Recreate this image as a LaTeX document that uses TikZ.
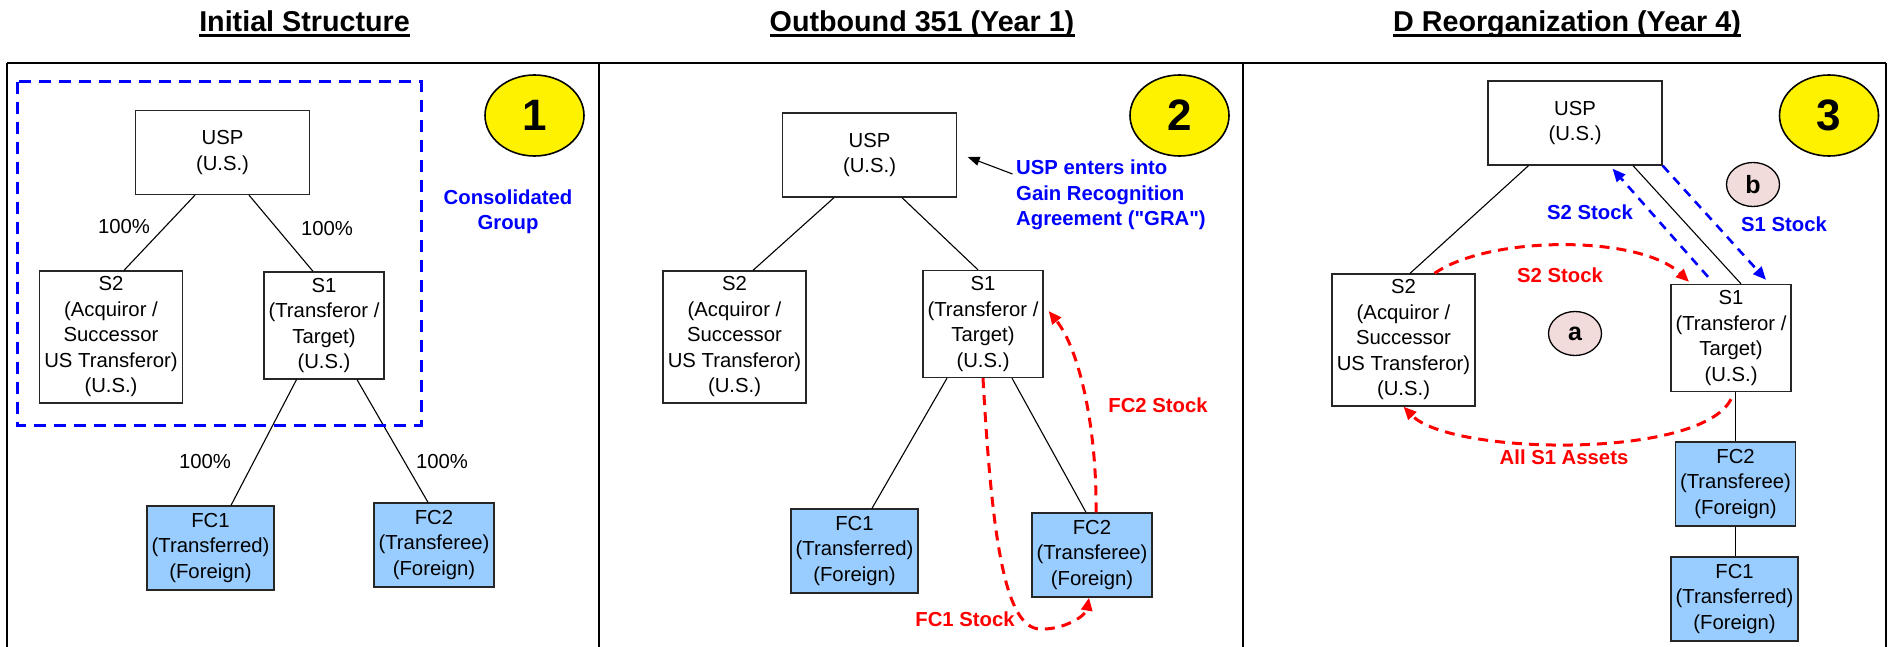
\documentclass[tikz,border=0pt]{standalone}
\usepackage{fontspec}
\setmainfont{Liberation Sans}[Ligatures=TeXOff]
\usepackage{xcolor}
\usetikzlibrary{calc, arrows.meta, shapes.geometric, positioning}

\definecolor{fcblue}{HTML}{99CCFF}
\definecolor{tagpink}{HTML}{F2DCDB}

\begin{document}
\begin{tikzpicture}[x=1pt, y=-1pt,
  every node/.style={font=\fontsize{20.3}{25.5}\selectfont, align=center, inner sep=0pt},
  entity/.style={draw=black!85, line width=1.3pt, fill=white},
  usp/.style={entity, minimum width=174pt, minimum height=84pt},
  subtwo/.style={entity, minimum width=143pt, minimum height=132pt},
  subone/.style={entity, minimum width=120pt, minimum height=107pt},
  fcone/.style={entity, fill=fcblue, minimum width=127pt, minimum height=84pt},
  fctwo/.style={entity, fill=fcblue, minimum width=120pt, minimum height=84pt},
  own/.style={line width=1.1pt},
  frame/.style={line width=2.5pt},
  heading/.style={font=\fontsize{28.7}{34}\selectfont\bfseries, anchor=base},
  stepnum/.style={ellipse, draw, line width=1.6pt, fill=yellow, minimum width=99pt, minimum height=81pt, font=\fontsize{44}{50}\selectfont\bfseries},
  tag/.style={ellipse, draw, line width=1.3pt, fill=tagpink, minimum width=53pt, minimum height=44pt, font=\fontsize{25}{28}\selectfont\bfseries},
  note/.style={font=\fontsize{20.3}{25.5}\selectfont\bfseries},
  moveR/.style={draw=red, line width=3pt, dash pattern=on 10pt off 7pt, -{Triangle[length=13pt,width=11pt]}},
  moveB/.style={draw=blue, line width=2.6pt, dash pattern=on 9pt off 7pt, -{Triangle[length=13pt,width=11pt]}},
]
  \useasboundingbox (0,0) rectangle (1889,647);

  % frame and headings
  \draw[frame] (7,63) -- (1886,63);
  \foreach \xx in {7,599,1243,1886} {
    \draw[frame] (\xx,63) -- (\xx,647);
  }
  \node[heading] (headA) at (304.5,32) {Initial Structure};
  \node[heading] (headB) at (922,32) {Outbound 351 (Year 1)};
  \node[heading] (headC) at (1567,32) {D Reorganization (Year 4)};
  \foreach \hh in {headA,headB,headC} {
    \draw[line width=3pt] ([yshift=-3.5pt]\hh.base west) -- ([yshift=-3.5pt]\hh.base east);
  }

  % initial structure
  \node[usp] (uspA) at (222.5,152.5) {USP\\(U.S.)};
  \node[subtwo] (stwoA) at (111,337) {S2\\(Acquiror /\\Successor\\US Transferor)\\(U.S.)};
  \node[subone] (soneA) at (324,325.5) {S1\\(Transferor /\\Target)\\(U.S.)};
  \node[fcone] (fconeA) at (210.5,548) {FC1\\(Transferred)\\(Foreign)};
  \node[fctwo] (fctwoA) at (434,545) {FC2\\(Transferee)\\(Foreign)};
  \draw[own] ([xshift=-27.5pt]uspA.south) -- ([xshift=13pt]stwoA.north);
  \draw[own] ([xshift=26.5pt]uspA.south) -- ([xshift=-11pt]soneA.north);
  \draw[own] ([xshift=-27.5pt]soneA.south) -- ([xshift=20.5pt]fconeA.north);
  \draw[own] ([xshift=33pt]soneA.south) -- ([xshift=-6pt]fctwoA.north);
  \node (pctA) at (124,227) {100\%};
  \node (pctB) at (327,229) {100\%};
  \node (pctC) at (205,462) {100\%};
  \node (pctD) at (442,462) {100\%};
  \draw[blue, line width=3pt, dash pattern=on 12pt off 8pt] (17,82) rectangle (421,425);
  \node[note, text=blue] (group) at (508,212) {Consolidated\\Group};
  \node[stepnum] (numA) at (534.5,115.5) {1};

  % outbound 351
  \node[usp] (uspB) at (869.5,155) {USP\\(U.S.)};
  \node[subtwo] (stwoB) at (734.5,337) {S2\\(Acquiror /\\Successor\\US Transferor)\\(U.S.)};
  \node[subone] (soneB) at (983,324) {S1\\(Transferor /\\Target)\\(U.S.)};
  \node[fcone] (fconeB) at (854.5,551) {FC1\\(Transferred)\\(Foreign)};
  \node[fctwo] (fctwoB) at (1092,555) {FC2\\(Transferee)\\(Foreign)};
  \draw[own] ([xshift=-35.5pt]uspB.south) -- ([xshift=18.5pt]stwoB.north);
  \draw[own] ([xshift=32.5pt]uspB.south) -- ([xshift=-5pt]soneB.north);
  \draw[own] ([xshift=-36pt]soneB.south) -- ([xshift=17.5pt]fconeB.north);
  \draw[own] ([xshift=29pt]soneB.south) -- ([xshift=-6pt]fctwoB.north);
  \node[stepnum] (numB) at (1179.5,115.5) {2};
  \node[note, text=blue, align=left, anchor=west] (gra) at (1016,195) {USP enters into\\Gain Recognition\\Agreement ("GRA")};
  \draw[own, -{Triangle[length=12pt,width=9pt]}] ([xshift=-3.5pt,yshift=21pt]gra.west) -- ([xshift=10.5pt,yshift=-2pt]uspB.east);
  \draw[moveR] (soneB.south) .. controls (992,540) and (1005,628) .. (1040,629)
    .. controls (1065,630) and (1086,615) .. ([xshift=-3pt]fctwoB.south);
  \draw[moveR] ([xshift=4pt]fctwoB.north) .. controls (1097,430) and (1080,350) .. ([xshift=5pt,yshift=13pt]soneB.east);
  \node[note, text=red] (stockFCone) at (965,619) {FC1 Stock};
  \node[note, text=red] (stockFCtwo) at (1158,405) {FC2 Stock};

  % D reorganization
  \node[usp] (uspC) at (1575,123) {USP\\(U.S.)};
  \node[subtwo] (stwoC) at (1403.5,340) {S2\\(Acquiror /\\Successor\\US Transferor)\\(U.S.)};
  \node[subone] (soneC) at (1731,338) {S1\\(Transferor /\\Target)\\(U.S.)};
  \node[fctwo] (fctwoC) at (1735.5,484) {FC2\\(Transferee)\\(Foreign)};
  \node[fcone] (fconeC) at (1734.5,599) {FC1\\(Transferred)\\(Foreign)};
  \draw[own] ([xshift=-46.5pt]uspC.south) -- ([xshift=6.5pt]stwoC.north);
  \draw[own] ([xshift=58pt]uspC.south) -- ([xshift=10pt]soneC.north);
  \draw[own] (fctwoC.north) -- (fctwoC.north |- soneC.south);
  \draw[own] (fctwoC.south) -- (fctwoC.south |- fconeC.north);
  \node[stepnum] (numC) at (1829,115.5) {3};
  \node[tag] (tagB) at (1753,184.5) {b};
  \node[tag] (tagA) at (1575,333.5) {a};
  \draw[moveB] ([xshift=-23pt,yshift=7pt]soneC.north) -- ([xshift=37.5pt,yshift=-3pt]uspC.south);
  \draw[moveB] (uspC.south east) -- ([xshift=35pt,yshift=4pt]soneC.north);
  \node[note, text=blue] (stockStwo) at (1590,212) {S2 Stock};
  \node[note, text=blue] (stockSone) at (1784,224) {S1 Stock};
  \draw[moveR] ([xshift=31pt]stwoC.north) .. controls (1490,235) and (1640,235) .. ([xshift=-42pt,yshift=2pt]soneC.north);
  \draw[moveR] ([yshift=-7pt]soneC.south) .. controls (1700,460) and (1450,455) .. (stwoC.south);
  \node[note, text=red] (swapStwo) at (1560,275) {S2 Stock};
  \node[note, text=red] (assets) at (1564,457) {All S1 Assets};
\end{tikzpicture}
\end{document}
